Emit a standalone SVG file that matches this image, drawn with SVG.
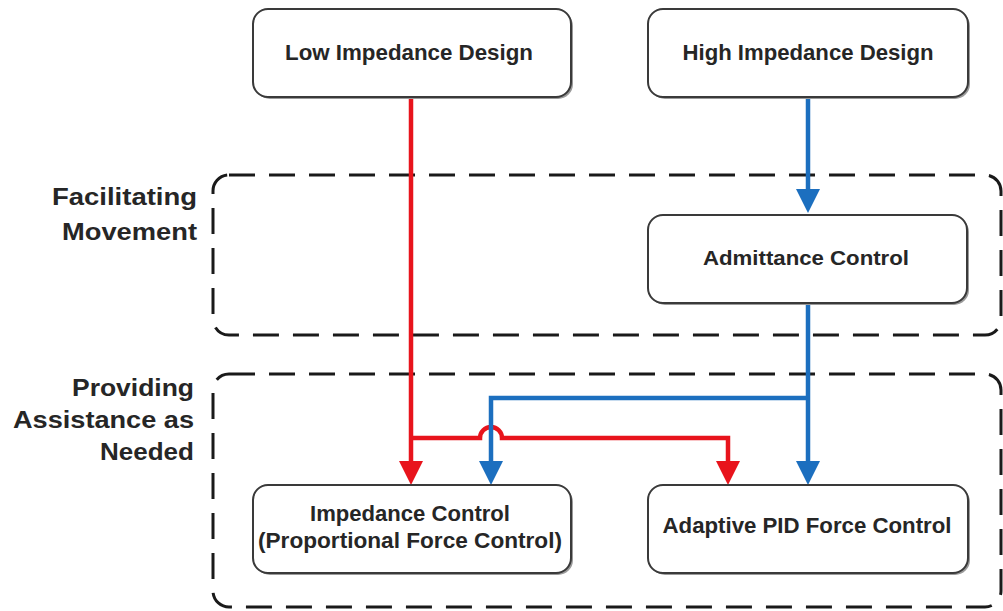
<svg xmlns="http://www.w3.org/2000/svg" width="1003" height="611" viewBox="0 0 1003 611">
  <defs>
    <style>
      .node rect.box { fill: #ffffff; stroke: #3a3a3a; stroke-width: 2; }
      .node rect.shadow { fill: #9a9a9a; }
      .node text { font-family: "Liberation Sans", Arial, sans-serif; font-weight: bold; font-size: 22px; fill: #262626; text-anchor: middle; }
      .group rect { fill: none; stroke: #1a1a1a; stroke-width: 3; stroke-dasharray: 26 14; }
      .label { font-family: "Liberation Sans", Arial, sans-serif; font-weight: bold; font-size: 23px; fill: #262626; text-anchor: end; }
      .red { fill: none; stroke: #e8141c; stroke-width: 4.5; }
      .blue { fill: none; stroke: #1c6fbf; stroke-width: 4.5; }
    </style>
    <marker id="arrRed" viewBox="0 0 24 24" markerWidth="24" markerHeight="24" refX="0" refY="12" orient="auto" markerUnits="userSpaceOnUse">
      <path d="M0,0 L24,12 L0,24 z" fill="#e8141c"/>
    </marker>
    <marker id="arrBlue" viewBox="0 0 24 24" markerWidth="24" markerHeight="24" refX="0" refY="12" orient="auto" markerUnits="userSpaceOnUse">
      <path d="M0,0 L24,12 L0,24 z" fill="#1c6fbf"/>
    </marker>
  </defs>
  <rect x="0" y="0" width="1003" height="611" fill="#ffffff"/>

  <g id="group-facilitating" class="group">
    <rect x="213" y="175" width="788" height="160" rx="16" ry="16"/>
    <text class="label" x="197" y="205" textLength="145" lengthAdjust="spacingAndGlyphs">Facilitating</text>
    <text class="label" x="197" y="240" textLength="135" lengthAdjust="spacingAndGlyphs">Movement</text>
  </g>

  <g id="group-providing" class="group">
    <rect x="213" y="374" width="788" height="233" rx="16" ry="16"/>
    <text class="label" x="194" y="396" textLength="122" lengthAdjust="spacingAndGlyphs">Providing</text>
    <text class="label" x="194" y="428" textLength="181" lengthAdjust="spacingAndGlyphs">Assistance as</text>
    <text class="label" x="194" y="460" textLength="94" lengthAdjust="spacingAndGlyphs">Needed</text>
  </g>

  <g id="connectors">
    <path class="red" d="M411,97 V461" marker-end="url(#arrRed)"/>
    <path class="red" d="M411,438 H480 A11,11 0 0 1 502,438 H728 V461" marker-end="url(#arrRed)"/>
    <path class="blue" d="M808,97 V189" marker-end="url(#arrBlue)"/>
    <path class="blue" d="M808,303 V461" marker-end="url(#arrBlue)"/>
    <path class="blue" d="M808,398 H491 V461" marker-end="url(#arrBlue)"/>
  </g>

  <g id="node-low" class="node">
    <rect class="shadow" x="255" y="11" width="318" height="88" rx="15" ry="15"/>
    <rect class="box" x="253" y="9" width="318" height="88" rx="15" ry="15"/>
    <text x="409" y="60" textLength="248" lengthAdjust="spacingAndGlyphs">Low Impedance Design</text>
  </g>

  <g id="node-high" class="node">
    <rect class="shadow" x="650" y="11" width="320" height="88" rx="15" ry="15"/>
    <rect class="box" x="648" y="9" width="320" height="88" rx="15" ry="15"/>
    <text x="808" y="60" textLength="251" lengthAdjust="spacingAndGlyphs">High Impedance Design</text>
  </g>

  <g id="node-admittance" class="node">
    <rect class="shadow" x="650" y="217" width="319" height="88" rx="15" ry="15"/>
    <rect class="box" x="648" y="215" width="319" height="88" rx="15" ry="15"/>
    <text x="806" y="265" style="font-size:20px" textLength="206" lengthAdjust="spacingAndGlyphs">Admittance Control</text>
  </g>

  <g id="node-impedance" class="node">
    <rect class="shadow" x="255" y="487" width="318" height="88" rx="15" ry="15"/>
    <rect class="box" x="253" y="485" width="318" height="88" rx="15" ry="15"/>
    <text x="410" y="521" textLength="200" lengthAdjust="spacingAndGlyphs">Impedance Control</text>
    <text x="410" y="548" textLength="304" lengthAdjust="spacingAndGlyphs">(Proportional Force Control)</text>
  </g>

  <g id="node-adaptive" class="node">
    <rect class="shadow" x="650" y="487" width="320" height="88" rx="15" ry="15"/>
    <rect class="box" x="648" y="485" width="320" height="88" rx="15" ry="15"/>
    <text x="807" y="533" textLength="289" lengthAdjust="spacingAndGlyphs">Adaptive PID Force Control</text>
  </g>
</svg>
